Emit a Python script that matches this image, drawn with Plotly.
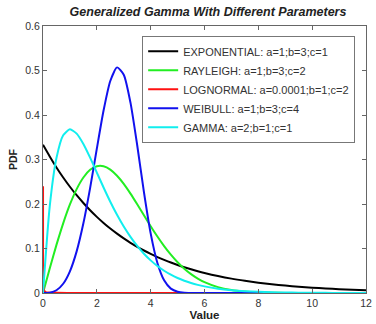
import plotly.graph_objects as go

# x grid shared by the smooth curves
x_vals = [0, 0.25, 0.5, 0.75, 1, 1.25, 1.5, 1.75, 2, 2.25, 2.5, 2.75, 3, 3.25, 3.5, 3.75,
          4, 4.25, 4.5, 4.75, 5, 5.25, 5.5, 5.75, 6, 6.5, 7, 7.5, 8, 8.5, 9, 9.5, 10,
          10.5, 11, 11.5, 12]

exponential = [0.333, 0.3068, 0.2822, 0.2596, 0.2388, 0.2197, 0.2022, 0.1860, 0.1711, 0.1574,
               0.1448, 0.1333, 0.1226, 0.1128, 0.1038, 0.0955, 0.0879, 0.0808, 0.0744, 0.0684,
               0.0630, 0.0579, 0.0533, 0.0490, 0.0451, 0.0382, 0.0323, 0.0274, 0.0232, 0.0196,
               0.0166, 0.0141, 0.0119, 0.0101, 0.0085, 0.0072, 0.0061]

rayleigh = [0, 0.0552, 0.1081, 0.1566, 0.1989, 0.2335, 0.2596, 0.2768, 0.2849, 0.2849,
            0.2774, 0.2636, 0.2453, 0.2234, 0.1994, 0.1747, 0.1502, 0.1269, 0.1054, 0.0861,
            0.0691, 0.0546, 0.0424, 0.0324, 0.0244, 0.0132, 0.0067, 0.0032, 0.0014, 0.0006,
            0.0002, 0.0001, 0, 0, 0, 0, 0]

weibull = [0, 0.0008, 0.0062, 0.0208, 0.0488, 0.0936, 0.1566, 0.2357, 0.3243, 0.4100,
           0.4764, 0.5070, 0.4905, 0.4277, 0.3320, 0.2268, 0.1340, 0.0675, 0.0285, 0.0099,
           0.0028, 0.0006, 0.0001, 0, 0, 0, 0, 0, 0, 0, 0, 0, 0, 0, 0, 0, 0]

gamma = [0, 0.1947, 0.3033, 0.3543, 0.3679, 0.3581, 0.3347, 0.3041, 0.2707, 0.2371,
         0.2052, 0.1758, 0.1494, 0.1261, 0.1057, 0.0882, 0.0733, 0.0606, 0.0500, 0.0411,
         0.0337, 0.0276, 0.0225, 0.0183, 0.0149, 0.0098, 0.0064, 0.0041, 0.0027, 0.0017,
         0.0011, 0.0007, 0.0005, 0.0003, 0.0002, 0.0001, 0.0001]

# lognormal: spike at the origin, then flat at zero
lognormal_x = [0.001, 0.002, 0.004, 0.01, 0.03, 0.1, 0.5, 1, 2, 4, 6, 8, 10, 12]
lognormal = [0.24, 0.1, 0.05, 0.02, 0.007, 0.002, 0.0003, 0, 0, 0, 0, 0, 0, 0]

names = ["EXPONENTIAL: a=1;b=3;c=1", "RAYLEIGH: a=1;b=3;c=2",
         "LOGNORMAL: a=0.0001;b=1;c=2", "WEIBULL: a=1;b=3;c=4", "GAMMA: a=2;b=1;c=1"]
colors = ["#000000", "#22EE22", "#FF1111", "#1111EE", "#11EEEE"]

series = [(x_vals, exponential), (x_vals, rayleigh), (lognormal_x, lognormal),
          (x_vals, weibull), (x_vals, gamma)]

fig = go.Figure()
for (xs, ys), name, col in zip(series, names, colors):
    fig.add_trace(go.Scatter(x=xs, y=ys, mode="lines", name=name,
                             line=dict(color=col, width=2, shape="spline", smoothing=0.6)))

font_family = "Liberation Sans, Arial, sans-serif"
axis_common = dict(showgrid=False, zeroline=False, showline=True, linecolor="#666666",
                   linewidth=1, mirror="ticks", ticks="inside", ticklen=4,
                   tickcolor="#666666", ticklabeloverflow="allow",
                   tickfont=dict(family=font_family, size=10.5, color="#333333"))

fig.update_layout(
    width=376, height=324,
    margin=dict(l=43, r=4, t=26, b=27),
    paper_bgcolor="white", plot_bgcolor="white",
    title=dict(text="Generalized Gamma With Different Parameters",
               x=208 / 376, xanchor="center", y=1 - 12 / 324, yanchor="middle",
               font=dict(family=font_family, size=12.5, color="#222222",
                         weight="bold", style="italic")),
    xaxis=dict(range=[0, 12], tickvals=[0, 2, 4, 6, 8, 10, 12],
               title=dict(text="Value", standoff=3,
                          font=dict(family=font_family, size=11.5, color="#222222", weight="bold")),
               **axis_common),
    yaxis=dict(range=[0, 0.6], tickvals=[0, 0.1, 0.2, 0.3, 0.4, 0.5, 0.6],
               ticktext=["0", "0.1", "0.2", "0.3", "0.4", "0.5", "0.6"],
               title=dict(text="PDF", standoff=5,
                          font=dict(family=font_family, size=10.5, color="#222222", weight="bold")),
               **axis_common),
    legend=dict(x=(144 - 43) / 329, y=(297 - 36) / 271, xanchor="left", yanchor="top",
                bgcolor="white", bordercolor="#777777", borderwidth=1,
                font=dict(family=font_family, size=11, color="#333333"),
                itemwidth=30, tracegroupgap=0),
    showlegend=True,
)

# remove the default page margin so the figure sits at the window's top-left corner
fig.write_html("out.html", config={"displayModeBar": False},
               post_script="document.body.style.margin='0';")
